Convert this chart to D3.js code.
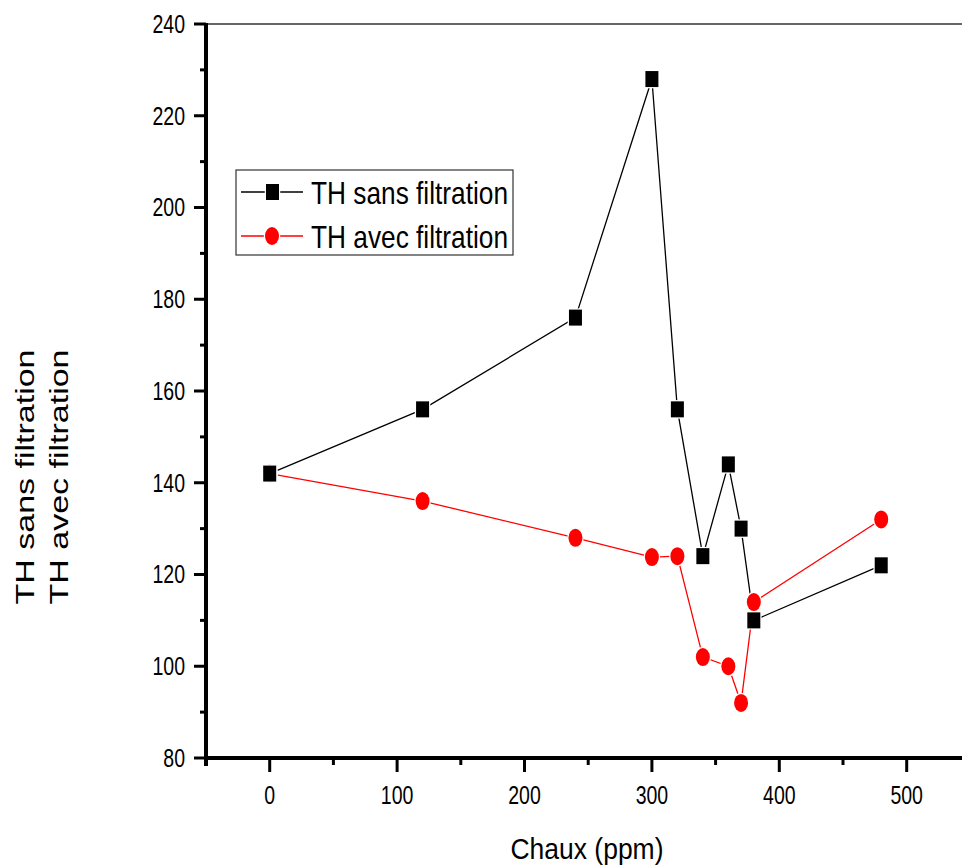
<!DOCTYPE html>
<html>
<head>
<meta charset="utf-8">
<script src="https://cdn.jsdelivr.net/npm/d3@7"></script>
<style>
  body { margin: 0; background: #fff; }
  text { font-family: "Liberation Sans", Arial, sans-serif; }
</style>
</head>
<body>
<div id="chart"></div>
<script>
// data
var chaux = [0, 120, 240, 300, 320, 340, 360, 370, 380, 480];
var thSans = [142, 156, 176, 228, 156, 124, 144, 130, 110, 122];
var thAvec = [142, 136, 128, 123.8, 124, 102, 100, 92, 114, 132];
var xTicks = [0, 100, 200, 300, 400, 500];
var yTicks = [80, 100, 120, 140, 160, 180, 200, 220, 240];

var svgWidth = 962, svgHeight = 867;
var margin = {top: 24, left: 206, bottom: 109};
var narrow = 0.78; // the original uses a condensed face

var svg = d3.select("#chart").append("svg")
  .attr("width", svgWidth).attr("height", svgHeight);

var x = d3.scaleLinear().domain([-50, 550]).range([margin.left, margin.left + 1.274 * 600]);
var y = d3.scaleLinear().domain([80, 240]).range([svgHeight - margin.bottom, margin.top]);

// top frame line
svg.append("line")
  .attr("x1", margin.left).attr("x2", svgWidth)
  .attr("y1", y(240)).attr("y2", y(240))
  .attr("stroke", "#666").attr("stroke-width", 2);

// x axis
var xAxis = svg.append("g").attr("transform", `translate(0,${y(80)})`);
xAxis.append("line").attr("x1", margin.left - 2).attr("x2", svgWidth)
  .attr("stroke", "#000").attr("stroke-width", 4);
xAxis.selectAll(".minor").data(d3.range(-50, 551, 100)).enter().append("line")
  .attr("x1", d => x(d)).attr("x2", d => x(d)).attr("y1", 0).attr("y2", 7)
  .attr("stroke", "#000").attr("stroke-width", 3);
xAxis.selectAll(".major").data(xTicks).enter().append("line")
  .attr("x1", d => x(d)).attr("x2", d => x(d)).attr("y1", 0).attr("y2", 14)
  .attr("stroke", "#000").attr("stroke-width", 3);
xAxis.selectAll(".lab").data(xTicks).enter().append("text")
  .attr("transform", d => `translate(${x(d)},46) scale(${narrow},1)`)
  .attr("text-anchor", "middle").attr("font-size", 25)
  .text(d => d);

// y axis
var yAxis = svg.append("g").attr("transform", `translate(${margin.left},0)`);
yAxis.append("line").attr("y1", y(240) - 1).attr("y2", y(80) + 8)
  .attr("stroke", "#000").attr("stroke-width", 4);
yAxis.selectAll(".minor").data(d3.range(90, 240, 20)).enter().append("line")
  .attr("x1", 0).attr("x2", -6).attr("y1", d => y(d)).attr("y2", d => y(d))
  .attr("stroke", "#000").attr("stroke-width", 3);
yAxis.selectAll(".major").data(yTicks).enter().append("line")
  .attr("x1", 0).attr("x2", -12).attr("y1", d => y(d)).attr("y2", d => y(d))
  .attr("stroke", "#000").attr("stroke-width", 3);
yAxis.selectAll(".lab").data(yTicks).enter().append("text")
  .attr("transform", d => `translate(-21,${y(d)}) scale(${narrow},1)`)
  .attr("dy", "0.35em")
  .attr("text-anchor", "end").attr("font-size", 25)
  .text(d => d);

// axis titles
svg.append("text")
  .attr("x", 587).attr("y", 859)
  .attr("text-anchor", "middle").attr("font-size", 30)
  .attr("textLength", 153).attr("lengthAdjust", "spacingAndGlyphs")
  .text("Chaux (ppm)");

var yTitle = svg.append("text")
  .attr("transform", "translate(0,477) rotate(-90)")
  .attr("text-anchor", "middle")
  .attr("font-size", 25);
yTitle.append("tspan").attr("x", 0).attr("y", 34)
  .attr("textLength", 255).attr("lengthAdjust", "spacingAndGlyphs")
  .text("TH sans filtration");
yTitle.append("tspan").attr("x", 0).attr("y", 68)
  .attr("textLength", 255).attr("lengthAdjust", "spacingAndGlyphs")
  .text("TH avec filtration");

// series
var line = d3.line().x(d => x(d[0])).y(d => y(d[1]));
var sansPts = chaux.map((c, i) => [c, thSans[i]]);
var avecPts = chaux.map((c, i) => [c, thAvec[i]]);

svg.append("path").datum(avecPts).attr("d", line)
  .attr("fill", "none").attr("stroke", "#ff0000").attr("stroke-width", 1.3);
svg.append("path").datum(sansPts).attr("d", line)
  .attr("fill", "none").attr("stroke", "#000").attr("stroke-width", 1.3);

function squares(g, pts) {
  g.selectAll(".sq").data(pts).enter().append("rect")
    .attr("x", d => x(d[0]) - 6.5).attr("y", d => y(d[1]) - 8)
    .attr("width", 13).attr("height", 16)
    .attr("fill", "#000").attr("stroke", "#fff").attr("stroke-width", 2.5)
    .attr("paint-order", "stroke");
}
function circles(g, pts) {
  g.selectAll(".ci").data(pts).enter().append("ellipse")
    .attr("cx", d => x(d[0])).attr("cy", d => y(d[1]))
    .attr("rx", 7).attr("ry", 9)
    .attr("fill", "#ff0000").attr("stroke", "#fff").attr("stroke-width", 2.5)
    .attr("paint-order", "stroke");
}
circles(svg.append("g"), avecPts);
squares(svg.append("g"), sansPts);

// legend
var legend = svg.append("g");
legend.append("rect").attr("x", 236).attr("y", 170).attr("width", 277).attr("height", 85)
  .attr("fill", "#fff").attr("stroke", "#333").attr("stroke-width", 1.2);
var entries = [
  {name: "TH sans filtration", color: "#000", shape: "square"},
  {name: "TH avec filtration", color: "#ff0000", shape: "circle"}
];
entries.forEach(function(e, i) {
  var cy = 192 + i * 44;
  legend.append("line").attr("x1", 241).attr("x2", 303).attr("y1", cy).attr("y2", cy)
    .attr("stroke", e.color).attr("stroke-width", 1.3);
  if (e.shape === "square") {
    legend.append("rect").attr("x", 266).attr("y", cy - 8).attr("width", 13).attr("height", 16)
      .attr("fill", e.color).attr("stroke", "#fff").attr("stroke-width", 2.5).attr("paint-order", "stroke");
  } else {
    legend.append("ellipse").attr("cx", 272).attr("cy", cy).attr("rx", 7).attr("ry", 9)
      .attr("fill", e.color).attr("stroke", "#fff").attr("stroke-width", 2.5).attr("paint-order", "stroke");
  }
  legend.append("text")
    .attr("x", 311).attr("y", cy).attr("dy", "0.36em")
    .attr("font-size", 32)
    .attr("textLength", 197).attr("lengthAdjust", "spacingAndGlyphs")
    .text(e.name);
});
</script>
</body>
</html>
